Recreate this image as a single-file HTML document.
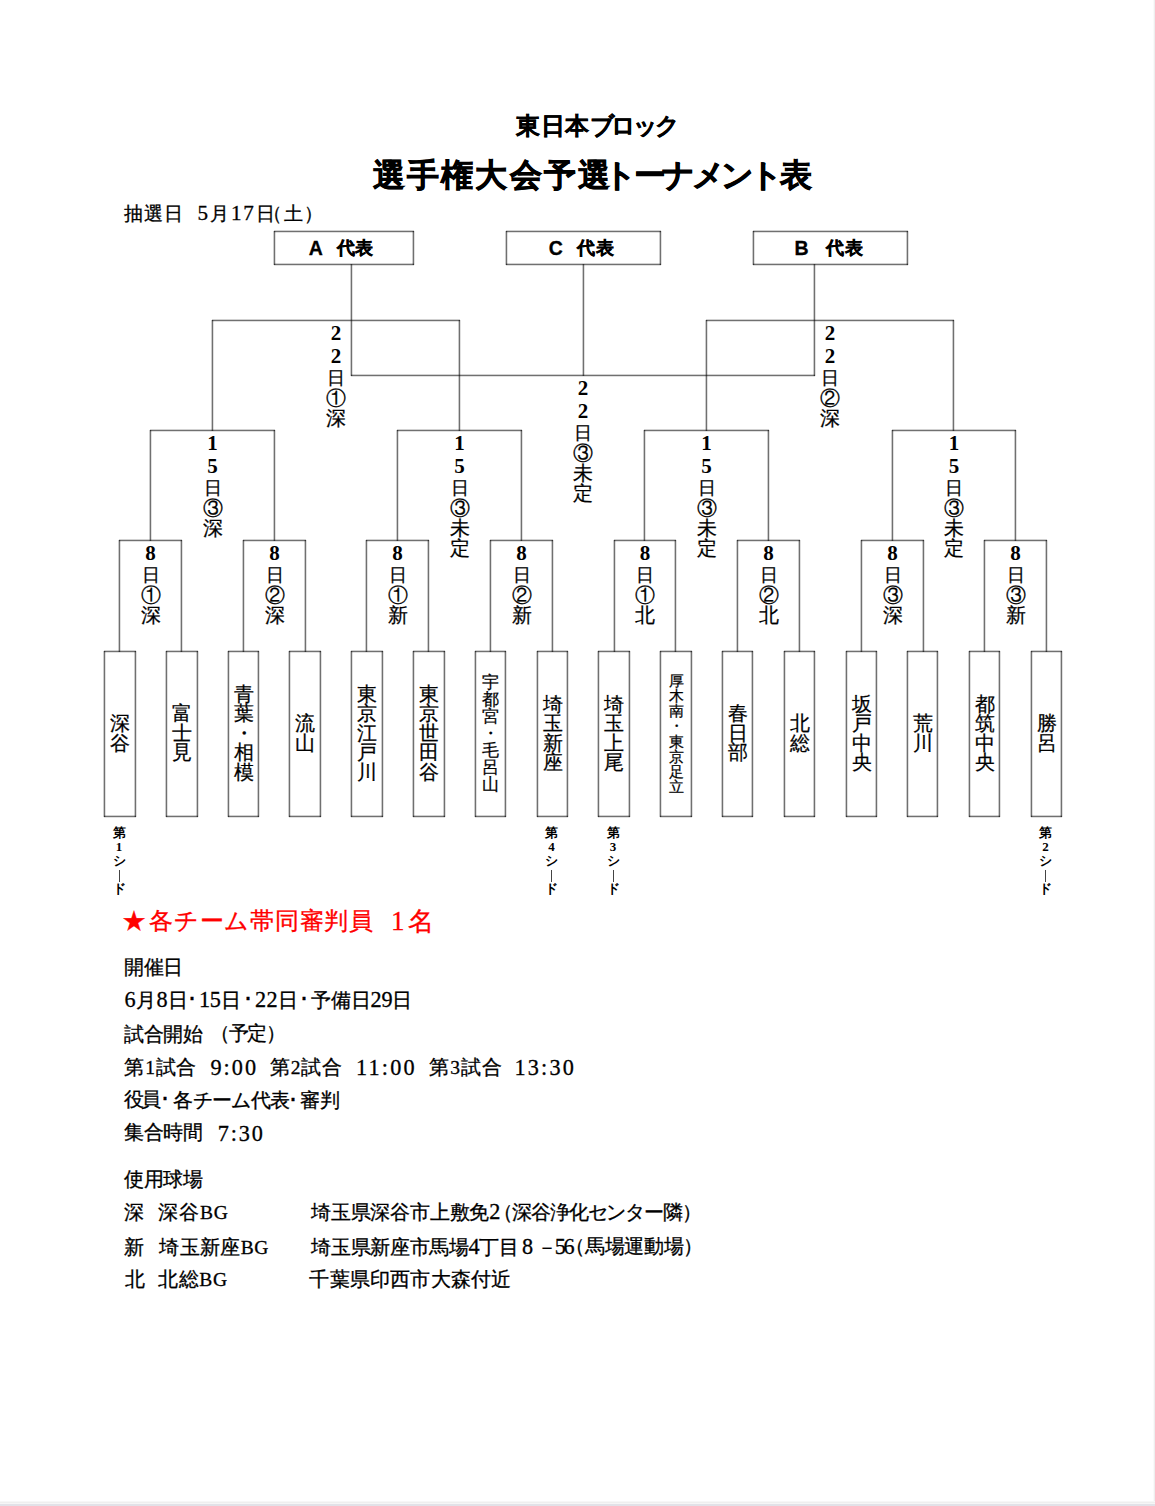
<!DOCTYPE html>
<html lang="ja"><head><meta charset="utf-8"><title>選手権大会予選トーナメント表</title>
<style>
html,body{margin:0;padding:0;background:#fff}
body{width:1155px;height:1506px;position:relative;overflow:hidden;font-family:"Liberation Serif",serif;color:#000}
.l{position:absolute;background:rgba(0,0,0,0.56)}
.v{box-shadow:-1px 0 rgba(0,0,0,.2),1px 0 rgba(0,0,0,.12)}
.h{box-shadow:0 -1px rgba(0,0,0,.18),0 1px rgba(0,0,0,.12)}
.t{position:absolute;white-space:nowrap}
.g{font-family:"Liberation Sans",sans-serif;font-weight:bold;-webkit-text-stroke:0.3px #000}
.g2{-webkit-text-stroke:0.7px #000}
.m{font-family:"Liberation Serif",serif;-webkit-text-stroke:0.3px #000}
.n{font-weight:normal;font-size:1.14em}
.red{font-family:"Liberation Serif",serif;color:#f00;-webkit-text-stroke:0.3px #f00}
.vl{position:absolute;width:30px;text-align:center}
.vl span{display:block}
.vl .d{font-family:"Liberation Serif",serif;font-weight:bold;font-size:21px;line-height:23px;height:23px}
.vl .k{font-size:20px;line-height:20px;height:20px;-webkit-text-stroke:0.25px #000}
.vl .k.s{font-size:17.5px}
.tn{position:absolute;width:30px;text-align:center;-webkit-text-stroke:0.25px #000}
.sd{position:absolute;width:20px;text-align:center;font-weight:bold;font-size:13px}
.sd span{display:block;line-height:14px;height:14px}
.sd .bar i{display:inline-block;width:1px;height:12px;background:#444;vertical-align:top;margin-top:2px}
.edge-r{position:absolute;left:1153px;top:0;width:2px;height:1502px;background:linear-gradient(90deg,#fafafa 50%,#eeeeee 50%)}
.edge-b{position:absolute;left:0;top:1501px;width:1155px;height:5px;background:linear-gradient(180deg,#f7f7f7 0,#f7f7f7 1px,#efefef 1px,#efefef 2px,#f6f6f6 2px,#f6f6f6 3px,#e2e2e8 3px)}
.solo .l,.solo .vl,.solo .tn,.solo .sd,.solo .t{visibility:hidden}
.solo .t.on{visibility:visible}
#pg{position:absolute;left:0;top:0;width:1155px;height:1506px}
</style></head><body>
<div id="pg">
<div class="l h" style="left:274px;top:231px;width:140px;height:1px"></div>
<div class="l h" style="left:274px;top:264px;width:140px;height:1px"></div>
<div class="l v" style="left:274px;top:231px;width:1px;height:34px"></div>
<div class="l v" style="left:413px;top:231px;width:1px;height:34px"></div>
<div class="l h" style="left:506px;top:231px;width:155px;height:1px"></div>
<div class="l h" style="left:506px;top:264px;width:155px;height:1px"></div>
<div class="l v" style="left:506px;top:231px;width:1px;height:34px"></div>
<div class="l v" style="left:660px;top:231px;width:1px;height:34px"></div>
<div class="l h" style="left:753px;top:231px;width:155px;height:1px"></div>
<div class="l h" style="left:753px;top:264px;width:155px;height:1px"></div>
<div class="l v" style="left:753px;top:231px;width:1px;height:34px"></div>
<div class="l v" style="left:907px;top:231px;width:1px;height:34px"></div>
<div class="l v" style="left:351px;top:264px;width:1px;height:112px"></div>
<div class="l v" style="left:583px;top:264px;width:1px;height:112px"></div>
<div class="l v" style="left:814px;top:264px;width:1px;height:112px"></div>
<div class="l h" style="left:351px;top:375px;width:464px;height:1px"></div>
<div class="l h" style="left:104px;top:651px;width:32px;height:1px"></div>
<div class="l h" style="left:104px;top:816px;width:32px;height:1px"></div>
<div class="l v" style="left:104px;top:651px;width:1px;height:166px"></div>
<div class="l v" style="left:135px;top:651px;width:1px;height:166px"></div>
<div class="l h" style="left:166px;top:651px;width:32px;height:1px"></div>
<div class="l h" style="left:166px;top:816px;width:32px;height:1px"></div>
<div class="l v" style="left:166px;top:651px;width:1px;height:166px"></div>
<div class="l v" style="left:197px;top:651px;width:1px;height:166px"></div>
<div class="l h" style="left:228px;top:651px;width:31px;height:1px"></div>
<div class="l h" style="left:228px;top:816px;width:31px;height:1px"></div>
<div class="l v" style="left:228px;top:651px;width:1px;height:166px"></div>
<div class="l v" style="left:258px;top:651px;width:1px;height:166px"></div>
<div class="l h" style="left:289px;top:651px;width:32px;height:1px"></div>
<div class="l h" style="left:289px;top:816px;width:32px;height:1px"></div>
<div class="l v" style="left:289px;top:651px;width:1px;height:166px"></div>
<div class="l v" style="left:320px;top:651px;width:1px;height:166px"></div>
<div class="l h" style="left:351px;top:651px;width:32px;height:1px"></div>
<div class="l h" style="left:351px;top:816px;width:32px;height:1px"></div>
<div class="l v" style="left:351px;top:651px;width:1px;height:166px"></div>
<div class="l v" style="left:382px;top:651px;width:1px;height:166px"></div>
<div class="l h" style="left:413px;top:651px;width:32px;height:1px"></div>
<div class="l h" style="left:413px;top:816px;width:32px;height:1px"></div>
<div class="l v" style="left:413px;top:651px;width:1px;height:166px"></div>
<div class="l v" style="left:444px;top:651px;width:1px;height:166px"></div>
<div class="l h" style="left:475px;top:651px;width:31px;height:1px"></div>
<div class="l h" style="left:475px;top:816px;width:31px;height:1px"></div>
<div class="l v" style="left:475px;top:651px;width:1px;height:166px"></div>
<div class="l v" style="left:505px;top:651px;width:1px;height:166px"></div>
<div class="l h" style="left:537px;top:651px;width:31px;height:1px"></div>
<div class="l h" style="left:537px;top:816px;width:31px;height:1px"></div>
<div class="l v" style="left:537px;top:651px;width:1px;height:166px"></div>
<div class="l v" style="left:567px;top:651px;width:1px;height:166px"></div>
<div class="l h" style="left:598px;top:651px;width:32px;height:1px"></div>
<div class="l h" style="left:598px;top:816px;width:32px;height:1px"></div>
<div class="l v" style="left:598px;top:651px;width:1px;height:166px"></div>
<div class="l v" style="left:629px;top:651px;width:1px;height:166px"></div>
<div class="l h" style="left:660px;top:651px;width:32px;height:1px"></div>
<div class="l h" style="left:660px;top:816px;width:32px;height:1px"></div>
<div class="l v" style="left:660px;top:651px;width:1px;height:166px"></div>
<div class="l v" style="left:691px;top:651px;width:1px;height:166px"></div>
<div class="l h" style="left:722px;top:651px;width:31px;height:1px"></div>
<div class="l h" style="left:722px;top:816px;width:31px;height:1px"></div>
<div class="l v" style="left:722px;top:651px;width:1px;height:166px"></div>
<div class="l v" style="left:752px;top:651px;width:1px;height:166px"></div>
<div class="l h" style="left:784px;top:651px;width:31px;height:1px"></div>
<div class="l h" style="left:784px;top:816px;width:31px;height:1px"></div>
<div class="l v" style="left:784px;top:651px;width:1px;height:166px"></div>
<div class="l v" style="left:814px;top:651px;width:1px;height:166px"></div>
<div class="l h" style="left:846px;top:651px;width:31px;height:1px"></div>
<div class="l h" style="left:846px;top:816px;width:31px;height:1px"></div>
<div class="l v" style="left:846px;top:651px;width:1px;height:166px"></div>
<div class="l v" style="left:876px;top:651px;width:1px;height:166px"></div>
<div class="l h" style="left:907px;top:651px;width:31px;height:1px"></div>
<div class="l h" style="left:907px;top:816px;width:31px;height:1px"></div>
<div class="l v" style="left:907px;top:651px;width:1px;height:166px"></div>
<div class="l v" style="left:937px;top:651px;width:1px;height:166px"></div>
<div class="l h" style="left:969px;top:651px;width:31px;height:1px"></div>
<div class="l h" style="left:969px;top:816px;width:31px;height:1px"></div>
<div class="l v" style="left:969px;top:651px;width:1px;height:166px"></div>
<div class="l v" style="left:999px;top:651px;width:1px;height:166px"></div>
<div class="l h" style="left:1031px;top:651px;width:31px;height:1px"></div>
<div class="l h" style="left:1031px;top:816px;width:31px;height:1px"></div>
<div class="l v" style="left:1031px;top:651px;width:1px;height:166px"></div>
<div class="l v" style="left:1061px;top:651px;width:1px;height:166px"></div>
<div class="l h" style="left:119px;top:540px;width:63px;height:1px"></div>
<div class="l v" style="left:119px;top:540px;width:1px;height:112px"></div>
<div class="l v" style="left:181px;top:540px;width:1px;height:112px"></div>
<div class="l h" style="left:243px;top:540px;width:63px;height:1px"></div>
<div class="l v" style="left:243px;top:540px;width:1px;height:112px"></div>
<div class="l v" style="left:305px;top:540px;width:1px;height:112px"></div>
<div class="l h" style="left:366px;top:540px;width:63px;height:1px"></div>
<div class="l v" style="left:366px;top:540px;width:1px;height:112px"></div>
<div class="l v" style="left:428px;top:540px;width:1px;height:112px"></div>
<div class="l h" style="left:490px;top:540px;width:63px;height:1px"></div>
<div class="l v" style="left:490px;top:540px;width:1px;height:112px"></div>
<div class="l v" style="left:552px;top:540px;width:1px;height:112px"></div>
<div class="l h" style="left:614px;top:540px;width:62px;height:1px"></div>
<div class="l v" style="left:614px;top:540px;width:1px;height:112px"></div>
<div class="l v" style="left:675px;top:540px;width:1px;height:112px"></div>
<div class="l h" style="left:737px;top:540px;width:63px;height:1px"></div>
<div class="l v" style="left:737px;top:540px;width:1px;height:112px"></div>
<div class="l v" style="left:799px;top:540px;width:1px;height:112px"></div>
<div class="l h" style="left:861px;top:540px;width:63px;height:1px"></div>
<div class="l v" style="left:861px;top:540px;width:1px;height:112px"></div>
<div class="l v" style="left:923px;top:540px;width:1px;height:112px"></div>
<div class="l h" style="left:984px;top:540px;width:63px;height:1px"></div>
<div class="l v" style="left:984px;top:540px;width:1px;height:112px"></div>
<div class="l v" style="left:1046px;top:540px;width:1px;height:112px"></div>
<div class="l h" style="left:150px;top:430px;width:125px;height:1px"></div>
<div class="l v" style="left:150px;top:430px;width:1px;height:111px"></div>
<div class="l v" style="left:274px;top:430px;width:1px;height:111px"></div>
<div class="l h" style="left:397px;top:430px;width:125px;height:1px"></div>
<div class="l v" style="left:397px;top:430px;width:1px;height:111px"></div>
<div class="l v" style="left:521px;top:430px;width:1px;height:111px"></div>
<div class="l h" style="left:644px;top:430px;width:125px;height:1px"></div>
<div class="l v" style="left:644px;top:430px;width:1px;height:111px"></div>
<div class="l v" style="left:768px;top:430px;width:1px;height:111px"></div>
<div class="l h" style="left:892px;top:430px;width:124px;height:1px"></div>
<div class="l v" style="left:892px;top:430px;width:1px;height:111px"></div>
<div class="l v" style="left:1015px;top:430px;width:1px;height:111px"></div>
<div class="l h" style="left:212px;top:320px;width:248px;height:1px"></div>
<div class="l v" style="left:212px;top:320px;width:1px;height:111px"></div>
<div class="l v" style="left:459px;top:320px;width:1px;height:111px"></div>
<div class="l h" style="left:706px;top:320px;width:248px;height:1px"></div>
<div class="l v" style="left:706px;top:320px;width:1px;height:111px"></div>
<div class="l v" style="left:953px;top:320px;width:1px;height:111px"></div>
<div class="vl" style="left:321.0px;top:321px"><span class="d" style="margin-top:1px">2</span><span class="d">2</span><span class="k s" style="margin-top:0px">日</span><span class="k">①</span><span class="k">深</span></div>
<div class="vl" style="left:815.0px;top:321px"><span class="d" style="margin-top:1px">2</span><span class="d">2</span><span class="k s" style="margin-top:0px">日</span><span class="k">②</span><span class="k">深</span></div>
<div class="vl" style="left:568.0px;top:376px"><span class="d" style="margin-top:1px">2</span><span class="d">2</span><span class="k s" style="margin-top:0px">日</span><span class="k">③</span><span class="k">未</span><span class="k">定</span></div>
<div class="vl" style="left:197.5px;top:431px"><span class="d" style="margin-top:1px">1</span><span class="d">5</span><span class="k s" style="margin-top:0px">日</span><span class="k">③</span><span class="k">深</span></div>
<div class="vl" style="left:444.5px;top:431px"><span class="d" style="margin-top:1px">1</span><span class="d">5</span><span class="k s" style="margin-top:0px">日</span><span class="k">③</span><span class="k">未</span><span class="k">定</span></div>
<div class="vl" style="left:691.5px;top:431px"><span class="d" style="margin-top:1px">1</span><span class="d">5</span><span class="k s" style="margin-top:0px">日</span><span class="k">③</span><span class="k">未</span><span class="k">定</span></div>
<div class="vl" style="left:939.0px;top:431px"><span class="d" style="margin-top:1px">1</span><span class="d">5</span><span class="k s" style="margin-top:0px">日</span><span class="k">③</span><span class="k">未</span><span class="k">定</span></div>
<div class="vl" style="left:135.5px;top:541px"><span class="d" style="margin-top:1px">8</span><span class="k s" style="margin-top:0px">日</span><span class="k">①</span><span class="k">深</span></div>
<div class="vl" style="left:259.5px;top:541px"><span class="d" style="margin-top:1px">8</span><span class="k s" style="margin-top:0px">日</span><span class="k">②</span><span class="k">深</span></div>
<div class="vl" style="left:382.5px;top:541px"><span class="d" style="margin-top:1px">8</span><span class="k s" style="margin-top:0px">日</span><span class="k">①</span><span class="k">新</span></div>
<div class="vl" style="left:506.5px;top:541px"><span class="d" style="margin-top:1px">8</span><span class="k s" style="margin-top:0px">日</span><span class="k">②</span><span class="k">新</span></div>
<div class="vl" style="left:630.0px;top:541px"><span class="d" style="margin-top:1px">8</span><span class="k s" style="margin-top:0px">日</span><span class="k">①</span><span class="k">北</span></div>
<div class="vl" style="left:753.5px;top:541px"><span class="d" style="margin-top:1px">8</span><span class="k s" style="margin-top:0px">日</span><span class="k">②</span><span class="k">北</span></div>
<div class="vl" style="left:877.5px;top:541px"><span class="d" style="margin-top:1px">8</span><span class="k s" style="margin-top:0px">日</span><span class="k">③</span><span class="k">深</span></div>
<div class="vl" style="left:1000.5px;top:541px"><span class="d" style="margin-top:1px">8</span><span class="k s" style="margin-top:0px">日</span><span class="k">③</span><span class="k">新</span></div>
<div class="tn" style="left:105.0px;top:714.0px;font-size:19.5px;line-height:19.5px">深<br>谷</div>
<div class="tn" style="left:167.0px;top:704.2px;font-size:19.5px;line-height:19.5px">富<br>士<br>見</div>
<div class="tn" style="left:228.5px;top:684.8px;font-size:19.5px;line-height:19.5px">青<br>葉<br>・<br>相<br>模</div>
<div class="tn" style="left:290.0px;top:714.0px;font-size:19.5px;line-height:19.5px">流<br>山</div>
<div class="tn" style="left:352.0px;top:684.8px;font-size:19.5px;line-height:19.5px">東<br>京<br>江<br>戸<br>川</div>
<div class="tn" style="left:414.0px;top:684.8px;font-size:19.5px;line-height:19.5px">東<br>京<br>世<br>田<br>谷</div>
<div class="tn" style="left:475.5px;top:674.0px;font-size:17px;line-height:17px">宇<br>都<br>宮<br>・<br>毛<br>呂<br>山</div>
<div class="tn" style="left:537.5px;top:694.5px;font-size:19.5px;line-height:19.5px">埼<br>玉<br>新<br>座</div>
<div class="tn" style="left:599.0px;top:694.5px;font-size:19.5px;line-height:19.5px">埼<br>玉<br>上<br>尾</div>
<div class="tn" style="left:661.0px;top:672.7px;font-size:15.2px;line-height:15.2px">厚<br>木<br>南<br>・<br>東<br>京<br>足<br>立</div>
<div class="tn" style="left:722.5px;top:704.2px;font-size:19.5px;line-height:19.5px">春<br>日<br>部</div>
<div class="tn" style="left:784.5px;top:714.0px;font-size:19.5px;line-height:19.5px">北<br>総</div>
<div class="tn" style="left:846.5px;top:694.5px;font-size:19.5px;line-height:19.5px">坂<br>戸<br>中<br>央</div>
<div class="tn" style="left:907.5px;top:714.0px;font-size:19.5px;line-height:19.5px">荒<br>川</div>
<div class="tn" style="left:969.5px;top:694.5px;font-size:19.5px;line-height:19.5px">都<br>筑<br>中<br>央</div>
<div class="tn" style="left:1031.5px;top:714.0px;font-size:19.5px;line-height:19.5px">勝<br>呂</div>
<div class="sd" style="left:109.0px;top:826px"><span>第</span><span class="sn">1</span><span>シ</span><span class="bar"><i></i></span><span>ド</span></div>
<div class="sd" style="left:541.5px;top:826px"><span>第</span><span class="sn">4</span><span>シ</span><span class="bar"><i></i></span><span>ド</span></div>
<div class="sd" style="left:603.0px;top:826px"><span>第</span><span class="sn">3</span><span>シ</span><span class="bar"><i></i></span><span>ド</span></div>
<div class="sd" style="left:1035.5px;top:826px"><span>第</span><span class="sn">2</span><span>シ</span><span class="bar"><i></i></span><span>ド</span></div>
<span id="h1a" class="t g" style="left:516.00px;top:110.12px;font-size:24px;line-height:31px;letter-spacing:0.70px">東日本</span>
<span id="h1b" class="t g" style="left:589.80px;top:110.12px;font-size:24px;line-height:31px;letter-spacing:-3.40px">ブロック</span>
<span id="h2a" class="t g g2" style="left:372.60px;top:155.22px;font-size:31.5px;line-height:41px;letter-spacing:2.30px">選手権大会予選</span>
<span id="h2b" class="t g g2" style="left:604.20px;top:155.22px;font-size:31.5px;line-height:41px;letter-spacing:-3.54px">トーナメント</span>
<span id="h2c" class="t g g2" style="left:779.60px;top:154.72px;font-size:31.5px;line-height:41px;letter-spacing:0.00px">表</span>
<span id="d1" class="t m" style="left:123.80px;top:201.98px;font-size:18.5px;line-height:24px;letter-spacing:0.90px">抽選日</span>
<span id="d2" class="t m" style="left:197.60px;top:200.83px;font-size:18.5px;line-height:24px;letter-spacing:1.89px"><b class=n>5</b>月<b class=n>17</b>日</span>
<span id="d3" class="t m" style="left:263.00px;top:201.68px;font-size:18.5px;line-height:24px;letter-spacing:1.60px">（土）</span>
<span id="bA" class="t g" style="left:308.80px;top:235.71px;font-size:19.5px;line-height:25px;letter-spacing:0.00px">A</span>
<span id="bA2" class="t g" style="left:337.20px;top:237.11px;font-size:18px;line-height:23px;letter-spacing:0.00px">代表</span>
<span id="bC" class="t g" style="left:548.80px;top:236.06px;font-size:19.5px;line-height:25px;letter-spacing:0.00px">C</span>
<span id="bC2" class="t g" style="left:577.20px;top:237.11px;font-size:18px;line-height:23px;letter-spacing:1.00px">代表</span>
<span id="bB" class="t g" style="left:794.60px;top:236.06px;font-size:19.5px;line-height:25px;letter-spacing:0.00px">B</span>
<span id="bB2" class="t g" style="left:825.80px;top:237.11px;font-size:18px;line-height:23px;letter-spacing:1.00px">代表</span>
<span id="r1" class="t red" style="left:122.40px;top:905.92px;font-size:24px;line-height:31px;letter-spacing:0.00px">★</span>
<span id="r2" class="t red" style="left:149.00px;top:906.32px;font-size:24px;line-height:31px;letter-spacing:0.76px">各チーム帯同審判員</span>
<span id="r3a" class="t red" style="left:391.00px;top:904.32px;font-size:27px;line-height:35px;letter-spacing:0.00px">1</span>
<span id="r3b" class="t red" style="left:408.00px;top:904.98px;font-size:26px;line-height:34px;letter-spacing:0.00px">名</span>
<span id="k1" class="t m" style="left:124.20px;top:955.16px;font-size:19.5px;line-height:25px;letter-spacing:-0.40px">開催日</span>
<span id="k2a" class="t m" style="left:124.60px;top:986.96px;font-size:19.5px;line-height:25px;letter-spacing:0.37px"><b class=n>6</b>月<b class=n>8</b>日</span>
<span id="k2b" class="t m" style="left:187.00px;top:986.96px;font-size:19.5px;line-height:25px;letter-spacing:0.00px">･</span>
<span id="k2c" class="t m" style="left:199.00px;top:986.96px;font-size:19.5px;line-height:25px;letter-spacing:-0.25px"><b class=n>15</b>日</span>
<span id="k2d" class="t m" style="left:243.00px;top:986.96px;font-size:19.5px;line-height:25px;letter-spacing:0.00px">･</span>
<span id="k2e" class="t m" style="left:255.00px;top:986.96px;font-size:19.5px;line-height:25px;letter-spacing:0.50px"><b class=n>22</b>日</span>
<span id="k2f" class="t m" style="left:299.00px;top:986.96px;font-size:19.5px;line-height:25px;letter-spacing:0.00px">･</span>
<span id="k2g" class="t m" style="left:311.00px;top:986.96px;font-size:19.5px;line-height:25px;letter-spacing:-0.16px">予備日<b class=n>29</b>日</span>
<span id="k3a" class="t m" style="left:124.20px;top:1021.51px;font-size:19.5px;line-height:25px;letter-spacing:-0.48px">試合開始</span>
<span id="k3b" class="t m" style="left:209.80px;top:1021.01px;font-size:19.5px;line-height:25px;letter-spacing:-1.19px">（予定）</span>
<span id="k4a" class="t m" style="left:124.40px;top:1055.01px;font-size:19.5px;line-height:25px;letter-spacing:0.77px">第1試合</span>
<span id="k4b" class="t m" style="left:210.40px;top:1055.06px;font-size:19.5px;line-height:25px;letter-spacing:2.07px"><b class=n>9:00</b></span>
<span id="k4c" class="t m" style="left:270.00px;top:1055.01px;font-size:19.5px;line-height:25px;letter-spacing:0.83px">第2試合</span>
<span id="k4d" class="t m" style="left:356.00px;top:1055.06px;font-size:19.5px;line-height:25px;letter-spacing:2.19px"><b class=n>11:00</b></span>
<span id="k4e" class="t m" style="left:429.40px;top:1055.01px;font-size:19.5px;line-height:25px;letter-spacing:0.84px">第3試合</span>
<span id="k4f" class="t m" style="left:514.60px;top:1055.06px;font-size:19.5px;line-height:25px;letter-spacing:2.15px"><b class=n>13:30</b></span>
<span id="k5a" class="t m" style="left:124.00px;top:1087.06px;font-size:19.5px;line-height:25px;letter-spacing:-3.00px">役員</span>
<span id="k5b" class="t m" style="left:160.00px;top:1087.06px;font-size:19.5px;line-height:25px;letter-spacing:0.00px">･</span>
<span id="k5c" class="t m" style="left:173.40px;top:1087.56px;font-size:19.5px;line-height:25px;letter-spacing:-0.70px">各チーム代表</span>
<span id="k5d" class="t m" style="left:288.40px;top:1087.56px;font-size:19.5px;line-height:25px;letter-spacing:0.00px">･</span>
<span id="k5e" class="t m" style="left:300.40px;top:1087.56px;font-size:19.5px;line-height:25px;letter-spacing:-0.10px">審判</span>
<span id="k6a" class="t m" style="left:124.00px;top:1120.31px;font-size:19.5px;line-height:25px;letter-spacing:-0.37px">集合時間</span>
<span id="k6b" class="t m" style="left:217.80px;top:1121.36px;font-size:19.5px;line-height:25px;letter-spacing:1.82px"><b class=n>7:30</b></span>
<span id="k7" class="t m" style="left:123.80px;top:1167.26px;font-size:19.5px;line-height:25px;letter-spacing:-0.20px">使用球場</span>
<span id="k8a" class="t m" style="left:124.00px;top:1199.81px;font-size:19.5px;line-height:25px;letter-spacing:0.00px">深</span>
<span id="k8b" class="t m" style="left:158.20px;top:1199.81px;font-size:19.5px;line-height:25px;letter-spacing:0.89px">深谷BG</span>
<span id="k8c" class="t m" style="left:311.20px;top:1199.31px;font-size:19.5px;line-height:25px;letter-spacing:-0.23px">埼玉県深谷市上敷免<b class=n>2</b></span>
<span id="k8d" class="t m" style="left:493.00px;top:1199.81px;font-size:19.5px;line-height:25px;letter-spacing:-1.10px">（深谷浄化センター隣）</span>
<span id="k9a" class="t m" style="left:124.00px;top:1234.71px;font-size:19.5px;line-height:25px;letter-spacing:0.00px">新</span>
<span id="k9b" class="t m" style="left:159.20px;top:1234.71px;font-size:19.5px;line-height:25px;letter-spacing:0.42px">埼玉新座BG</span>
<span id="k9c" class="t m" style="left:311.20px;top:1233.71px;font-size:19.5px;line-height:25px;letter-spacing:-0.33px">埼玉県新座市馬場<b class=n>4</b>丁目</span>
<span id="k9d" class="t m" style="left:522.00px;top:1233.71px;font-size:19.5px;line-height:25px;letter-spacing:0.00px"><b class=n>8</b></span>
<span id="k9e" class="t m" style="left:537.20px;top:1233.71px;font-size:19.5px;line-height:25px;letter-spacing:-2.40px">－<b class=n>56</b></span>
<span id="k9f" class="t m" style="left:565.40px;top:1233.71px;font-size:19.5px;line-height:25px;letter-spacing:-0.35px">（馬場運動場）</span>
<span id="k10a" class="t m" style="left:124.60px;top:1267.26px;font-size:19.5px;line-height:25px;letter-spacing:0.00px">北</span>
<span id="k10b" class="t m" style="left:157.80px;top:1267.26px;font-size:19.5px;line-height:25px;letter-spacing:0.71px">北総BG</span>
<span id="k10c" class="t m" style="left:309.40px;top:1267.26px;font-size:19.5px;line-height:25px;letter-spacing:0.19px">千葉県印西市大森付近</span>
</div>
<div class="edge-r"></div>
<div class="edge-b"></div>
</body></html>
